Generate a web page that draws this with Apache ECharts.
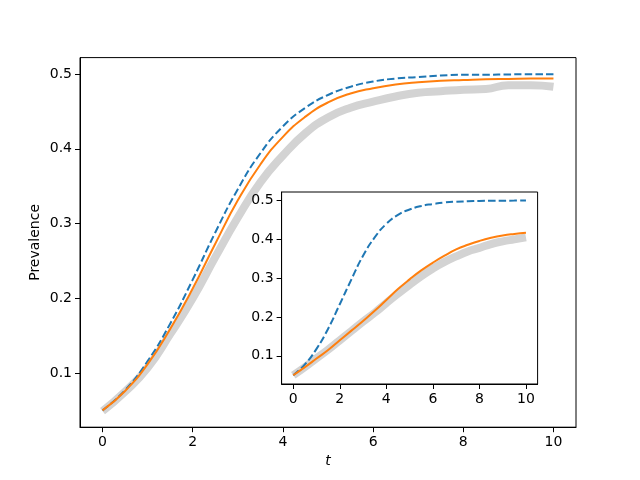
<!DOCTYPE html>
<html>
<head>
<meta charset="utf-8">
<script src="https://cdn.jsdelivr.net/npm/echarts@6/dist/echarts.min.js"></script>
<style>
  html, body { margin: 0; padding: 0; background: #fff; }
  #chart { width: 640px; height: 480px; }
</style>
</head>
<body>
<div id="chart"></div>
<script>
// time points shared by every curve
var times = [0, 0.5, 1, 1.5, 2, 2.5, 3, 3.5, 4, 4.5, 5, 5.5, 6, 6.5, 7, 7.5, 8, 8.5, 9, 9.5, 10];

// main panel
var mainSim = [0.049, 0.075, 0.107, 0.152, 0.200, 0.255, 0.308, 0.355, 0.391, 0.421, 0.442, 0.455, 0.463, 0.470, 0.475, 0.477, 0.479, 0.480, 0.485, 0.485, 0.483];
var mainMeanField = [0.050, 0.077, 0.116, 0.166, 0.225, 0.288, 0.346, 0.394, 0.430, 0.455, 0.472, 0.483, 0.490, 0.494, 0.496, 0.498, 0.499, 0.499, 0.4995, 0.4997, 0.4998];
var mainPair = [0.050, 0.076, 0.112, 0.159, 0.213, 0.273, 0.331, 0.379, 0.416, 0.443, 0.462, 0.474, 0.481, 0.486, 0.489, 0.491, 0.492, 0.493, 0.4935, 0.494, 0.494];

// inset panel
var insetSim = [0.050, 0.071, 0.094, 0.116, 0.140, 0.164, 0.188, 0.211, 0.236, 0.260, 0.283, 0.305, 0.325, 0.342, 0.356, 0.369, 0.378, 0.388, 0.395, 0.400, 0.405];
var insetMeanField = [0.050, 0.078, 0.118, 0.170, 0.233, 0.297, 0.358, 0.405, 0.440, 0.463, 0.477, 0.486, 0.491, 0.495, 0.497, 0.498, 0.499, 0.4995, 0.4997, 0.4998, 0.4999];
var insetPair = [0.050, 0.071, 0.093, 0.115, 0.140, 0.165, 0.190, 0.216, 0.244, 0.272, 0.297, 0.320, 0.340, 0.358, 0.374, 0.386, 0.396, 0.404, 0.410, 0.414, 0.417];

var xTicks = [0, 2, 4, 6, 8, 10];
var yTicks = [0.1, 0.2, 0.3, 0.4, 0.5];

function pairs(vals) {
    return times.map(function (t, i) { return [t, vals[i]]; });
}

var font = 'DejaVu Sans';

function makeX(gridIndex, z) {
    return {
        type: 'value', gridIndex: gridIndex, min: -0.5, max: 10.5, z: z,
        axisLine: { show: true, onZero: false, lineStyle: { color: '#000', width: 1 } },
        axisTick: { show: true, inside: false, length: 5, customValues: xTicks, lineStyle: { color: '#000' } },
        axisLabel: { customValues: xTicks, margin: 8, color: '#000', fontSize: 14, fontFamily: font },
        splitLine: { show: false }
    };
}
function makeY(gridIndex, z) {
    return {
        type: 'value', gridIndex: gridIndex, min: 0.0275, max: 0.522, z: z,
        axisLine: { show: true, onZero: false, lineStyle: { color: '#000', width: 1 } },
        axisTick: { show: true, inside: false, length: 5, customValues: yTicks, lineStyle: { color: '#000' } },
        axisLabel: {
            customValues: yTicks, margin: 8, color: '#000', fontSize: 14, fontFamily: font,
            formatter: function (v) { return v.toFixed(1); }
        },
        splitLine: { show: false }
    };
}

function line(vals, axisIdx, kind, z) {
    var s = {
        type: 'line', data: pairs(vals), xAxisIndex: axisIdx, yAxisIndex: axisIdx,
        showSymbol: false, smooth: true, z: z, silent: true, animation: false
    };
    if (kind === 'sim') s.lineStyle = { color: '#d3d3d3', width: 8 };
    if (kind === 'mf') s.lineStyle = { color: '#1f77b4', width: 2, type: [7.4, 3.2] };
    if (kind === 'pair') s.lineStyle = { color: '#ff7f0e', width: 2 };
    return s;
}

var chart = echarts.init(document.getElementById('chart'), null, { renderer: 'canvas' });

var xMain = makeX(0, 3);
xMain.name = 't';
xMain.nameLocation = 'middle';
xMain.nameGap = 27;
xMain.nameMoveOverlap = false;
xMain.nameTextStyle = { color: '#000', fontSize: 14, fontFamily: font, fontStyle: 'italic' };
var yMain = makeY(0, 3);
yMain.name = 'Prevalence';
yMain.nameLocation = 'middle';
yMain.nameGap = 38;
yMain.nameMoveOverlap = false;
yMain.nameTextStyle = { color: '#000', fontSize: 14, fontFamily: font };

chart.setOption({
    backgroundColor: '#fff',
    animation: false,
    grid: [
        { left: 80, top: 57.6, width: 496, height: 369.6, show: true, borderColor: '#000', borderWidth: 1, backgroundColor: '#fff', z: 0 },
        { left: 281.6, top: 192, width: 256, height: 192, show: true, borderColor: '#000', borderWidth: 1, backgroundColor: '#fff', z: 10 }
    ],
    xAxis: [xMain, makeX(1, 12)],
    yAxis: [yMain, makeY(1, 12)],
    series: [
        line(mainSim, 0, 'sim', 2),
        line(mainMeanField, 0, 'mf', 3),
        line(mainPair, 0, 'pair', 4),
        line(insetSim, 1, 'sim', 13),
        line(insetMeanField, 1, 'mf', 14),
        line(insetPair, 1, 'pair', 15)
    ]
});
</script>
</body>
</html>
